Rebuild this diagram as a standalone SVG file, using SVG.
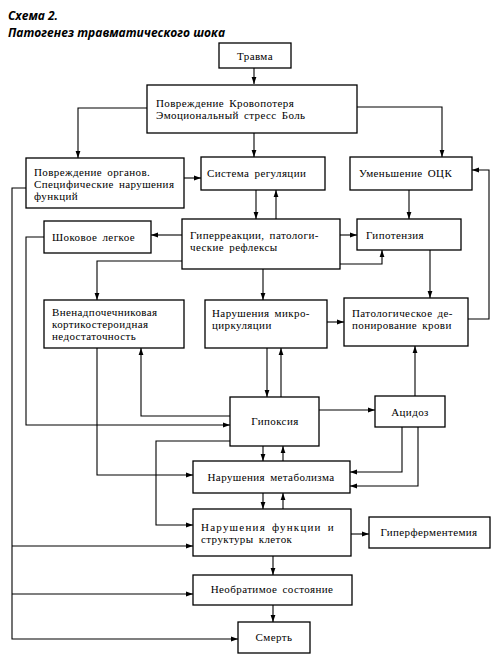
<svg xmlns="http://www.w3.org/2000/svg" width="500" height="660" viewBox="0 0 500 660">
<defs>
<marker id="a" markerWidth="8" markerHeight="6" refX="7" refY="3" orient="auto" markerUnits="userSpaceOnUse"><path d="M0,0.6 L7,3 L0,5.4 Z" fill="#000"/></marker>
<style>
.b{fill:#fff;stroke:#000;stroke-width:1.3}
.t{font-family:"Liberation Serif","Times New Roman",serif;font-size:11px;fill:#000;letter-spacing:0.4px;word-spacing:2px}
.c{fill:none;stroke:#000;stroke-width:1.1}
.ar{marker-end:url(#a)}
.h{font-family:"Open Sans","Liberation Sans",Arial,sans-serif;font-size:12px;font-weight:bold;font-style:italic;fill:#000}
</style>
</defs>
<rect width="500" height="660" fill="#fff"/>
<text class="h" x="8" y="20">Схема 2.</text>
<text class="h" x="8" y="37">Патогенез травматического шока</text>
<g id="connectors">
<path class="c ar" d="M254,68 V84"/>
<path class="c ar" d="M147,108 H78 V158"/>
<path class="c ar" d="M357,107 H442 V157"/>
<path class="c ar" d="M254,133 V157"/>
<path class="c ar" d="M184,178 H201"/>
<path class="c ar" d="M26,188 H12 V639 H238"/>
<path class="c ar" d="M12,546 H193"/>
<path class="c ar" d="M12,594 H193"/>
<path class="c ar" d="M256,190 V219"/>
<path class="c ar" d="M276,219 V190"/>
<path class="c ar" d="M182,235 H151"/>
<path class="c ar" d="M44,237 H26 V425 H230"/>
<path class="c ar" d="M182,261 H97 V300"/>
<path class="c ar" d="M263,269 V300"/>
<path class="c ar" d="M340,235 H357"/>
<path class="c ar" d="M340,264 H382 V250"/>
<path class="c ar" d="M409,190 V219"/>
<path class="c ar" d="M430,250 V298"/>
<path class="c ar" d="M468,319 H489 V170 H472"/>
<path class="c ar" d="M327,322 H344"/>
<path class="c ar" d="M267,348 V397"/>
<path class="c ar" d="M281,397 V348"/>
<path class="c ar" d="M230,416 H141 V348"/>
<path class="c ar" d="M97,348 V475 H193"/>
<path class="c ar" d="M230,441 H156 V525 H193"/>
<path class="c ar" d="M319,410 H375"/>
<path class="c ar" d="M415,396 V346"/>
<path class="c ar" d="M402,427 V472 H350"/>
<path class="c ar" d="M418,427 V486 H350"/>
<path class="c ar" d="M263,446 V461"/>
<path class="c ar" d="M283,461 V446"/>
<path class="c ar" d="M263,493 V509"/>
<path class="c ar" d="M283,509 V493"/>
<path class="c ar" d="M351,534 H369"/>
<path class="c ar" d="M273,556 V575"/>
<path class="c ar" d="M273,605 V622"/>
</g>
<g id="trauma"><rect class="b" x="219" y="43" width="72" height="25"/><text class="t" x="255" y="60" text-anchor="middle">Травма</text></g>
<g id="damage"><rect class="b" x="147" y="85" width="210" height="48"/><text class="t" x="156" y="107">Повреждение Кровопотеря</text><text class="t" x="156" y="119">Эмоциональный стресс Боль</text></g>
<g id="organs"><rect class="b" x="26" y="158" width="158" height="50"/><text class="t" x="34" y="176">Повреждение органов.</text><text class="t" x="34" y="188">Специфические нарушения</text><text class="t" x="34" y="200">функций</text></g>
<g id="regulation"><rect class="b" x="201" y="157" width="124" height="33"/><text class="t" x="207" y="177">Система регуляции</text></g>
<g id="bcv"><rect class="b" x="350" y="157" width="122" height="33"/><text class="t" x="359" y="177">Уменьшение ОЦК</text></g>
<g id="hyperreaction"><rect class="b" x="182" y="219" width="158" height="50"/><text class="t" x="190" y="239">Гиперреакции, патологи-</text><text class="t" x="190" y="251">ческие рефлексы</text></g>
<g id="shocklung"><rect class="b" x="44" y="221" width="107" height="32"/><text class="t" x="52" y="241">Шоковое легкое</text></g>
<g id="hypotension"><rect class="b" x="357" y="219" width="104" height="31"/><text class="t" x="366" y="239">Гипотензия</text></g>
<g id="adrenal"><rect class="b" x="44" y="300" width="140" height="48"/><text class="t" x="52" y="316">Вненадпочечниковая</text><text class="t" x="52" y="328">кортикостероидная</text><text class="t" x="52" y="340">недостаточность</text></g>
<g id="microcirc"><rect class="b" x="205" y="300" width="122" height="48"/><text class="t" x="212" y="317">Нарушения микро-</text><text class="t" x="212" y="329">циркуляции</text></g>
<g id="deposition"><rect class="b" x="344" y="298" width="124" height="48"/><text class="t" x="352" y="317">Патологическое де-</text><text class="t" x="352" y="329">понирование крови</text></g>
<g id="hypoxia"><rect class="b" x="230" y="397" width="89" height="49"/><text class="t" x="275" y="425" text-anchor="middle">Гипоксия</text></g>
<g id="acidosis"><rect class="b" x="375" y="396" width="70" height="31"/><text class="t" x="410" y="416" text-anchor="middle">Ацидоз</text></g>
<g id="metabolism"><rect class="b" x="193" y="461" width="157" height="32"/><text class="t" x="271" y="481" text-anchor="middle">Нарушения метаболизма</text></g>
<g id="cells"><rect class="b" x="193" y="509" width="158" height="47"/><text class="t" x="201" y="531" textLength="133" lengthAdjust="spacing">Нарушения функции и</text><text class="t" x="201" y="543">структуры клеток</text></g>
<g id="hyperferment"><rect class="b" x="369" y="517" width="121" height="31"/><text class="t" x="429" y="536" text-anchor="middle">Гиперферментемия</text></g>
<g id="irreversible"><rect class="b" x="193" y="575" width="159" height="30"/><text class="t" x="272" y="593" text-anchor="middle">Необратимое состояние</text></g>
<g id="death"><rect class="b" x="238" y="622" width="72" height="31"/><text class="t" x="274" y="641" text-anchor="middle">Смерть</text></g>
</svg>
